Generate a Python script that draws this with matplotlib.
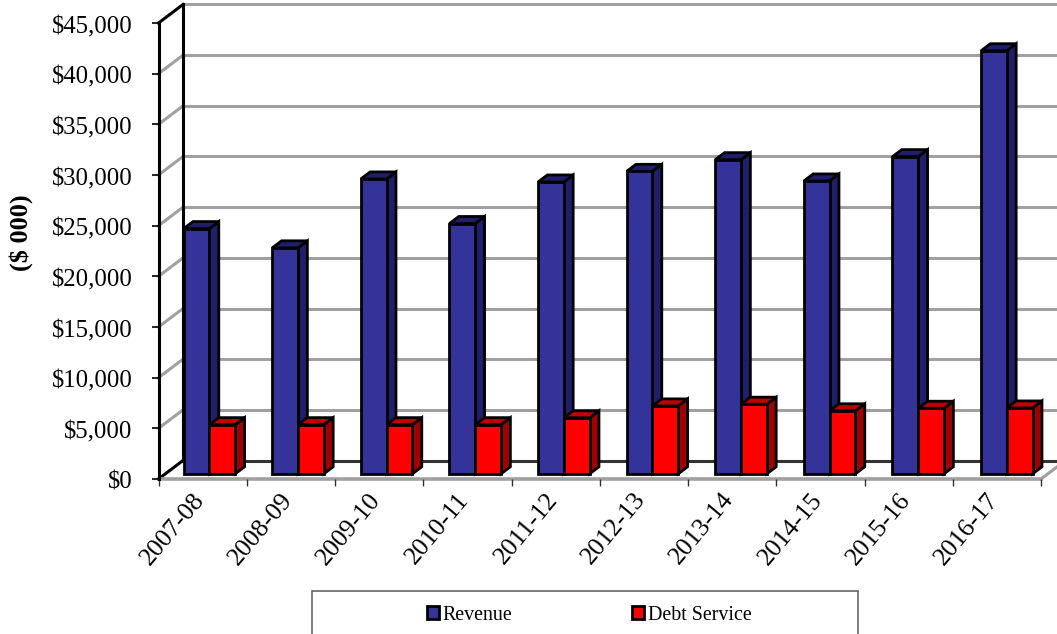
import matplotlib
matplotlib.use("Agg")
import matplotlib.pyplot as plt
from matplotlib.patches import Rectangle
from matplotlib.ticker import FuncFormatter
from matplotlib.transforms import ScaledTranslation

categories = ["2007-08", "2008-09", "2009-10", "2010-11", "2011-12",
              "2012-13", "2013-14", "2014-15", "2015-16", "2016-17"]
revenue = [24200, 22300, 29100, 24700, 28800, 29850, 31000, 28900, 31300, 41750]
debt_service = [4850, 4850, 4850, 4850, 5530, 6700, 6870, 6220, 6470, 6500]
y_ticks = list(range(0, 45001, 5000))

plt.rcParams["font.family"] = ["Liberation Serif", "DejaVu Serif"]
W, H = 1057, 634
fig = plt.figure(figsize=(W / 100, H / 100), dpi=100)
L, R, T, B = 158.5, 1041, 23, 479
ax = fig.add_axes([L / W, 1 - B / H, (R - L) / W, (B - T) / H])
ax.set_xlim(0, len(categories))
ax.set_ylim(0, 45000)
ax.patch.set_visible(False)

ux = (R - L) / len(categories)       # px per category
uy = (B - T) / 45000                 # px per value unit
DX, DY = 24.5 / ux, 18.5 / uy        # full depth in data units


def depth(f):
    return f * DX, f * DY


GREY = "#a0a0a0"
dx, dy = depth(1)
# walls: back gridlines and side diagonals
for v in y_ticks:
    top = v == 45000
    if v > 0:
        ax.plot([dx, 10 + dx], [v + dy] * 2, color=GREY, lw=2.2, clip_on=False, zorder=1)
        ax.plot([0, dx], [v, v + dy], color="black" if top else GREY, lw=2.2, clip_on=False, zorder=1)
# floor
ax.plot([dx, 10 + dx], [dy, dy], color="#333333", lw=2.2, clip_on=False, zorder=1)
ax.plot([0, dx], [0, dy], color="black", lw=2.2, clip_on=False, zorder=1)
ax.plot([10, 10 + dx], [0, dy], color=GREY, lw=2.2, clip_on=False, zorder=1)
ax.plot([0, 10], [0, 0], color=GREY, lw=2.6, clip_on=False, zorder=1)
# back vertical of side wall
ax.plot([dx, dx], [dy, 45000 + dy], color="black", lw=2.2, clip_on=False, zorder=1)

GAP = 18.3 / ux
BW = 25.8 / ux
F0, FD = 0.28, 0.38
STEP = 88.6 / ux


def draw_bar(x, v, face, side, top, z, label=None):
    ox, oy = depth(F0)
    bx, by = depth(FD)
    x0 = x + ox
    y0 = oy
    x1 = x0 + BW
    y1 = y0 + v
    kw = dict(edgecolor="black", linewidth=2.0, joinstyle="miter", clip_on=False, zorder=z)
    ax.fill([x1, x1 + bx, x1 + bx, x1], [y0, y0 + by, y1 + by, y1], facecolor=side, **kw)
    ax.fill([x0, x0 + bx, x1 + bx, x1], [y1, y1 + by, y1 + by, y1], facecolor=top, **kw)
    ax.bar(x0, v, width=BW, bottom=y0, align="edge", color=face, label=label, **kw)


for i, (r, d) in enumerate(zip(revenue, debt_service)):
    z = 3 + i * 0.1
    draw_bar(i * STEP + GAP, r, "#333399", "#20206a", "#20206a", z,
             "Revenue" if i == 0 else None)
    draw_bar(i * STEP + GAP + BW, d, "#ff0000", "#a00000", "#c00000", z + 0.05,
             "Debt Service" if i == 0 else None)

for s in ("top", "right", "bottom"):
    ax.spines[s].set_visible(False)
ax.spines["left"].set_linewidth(2.2)
ax.spines["left"].set_zorder(2)

ax.set_yticks(y_ticks)
ax.yaxis.set_major_formatter(FuncFormatter(lambda v, _: f"${v:,.0f}"))
ax.tick_params(axis="y", length=5, width=1.2, labelsize=17.8, pad=13.5)
shift_down = ScaledTranslation(0, -1.5 / 100, fig.dpi_scale_trans)
for lab in ax.get_yticklabels():
    lab.set_transform(lab.get_transform() + shift_down)
ax.set_xticks(range(len(categories) + 1))
ax.set_xticklabels([])
ax.tick_params(axis="x", which="major", length=5, width=1.0, color="#333333")
ax.set_xticks([i + 0.38 for i in range(len(categories))], minor=True)
ax.set_xticklabels(categories, minor=True, rotation=50, ha="right", va="top",
                   rotation_mode="anchor", fontsize=18.6)
ax.tick_params(axis="x", which="minor", length=0, pad=7)

fig.text(21 / W, 1 - 233 / H, "($ 000)", rotation=90, ha="center", va="center",
         fontsize=19, fontweight="bold")

# legend frame, running off the bottom edge like the original
fig.add_artist(Rectangle((312 / W, 1 - 640 / H), 546 / W, 49 / H, transform=fig.transFigure,
                         facecolor="white", edgecolor="#666666", linewidth=1.2))
leg = fig.legend(loc="center", bbox_to_anchor=(589 / W, 1 - 615 / H), ncol=2, frameon=False,
                 fontsize=14.4, handlelength=0.6, handleheight=0.6, handletextpad=0.2,
                 columnspacing=5.95)

fig.savefig("out.png", dpi=100)
